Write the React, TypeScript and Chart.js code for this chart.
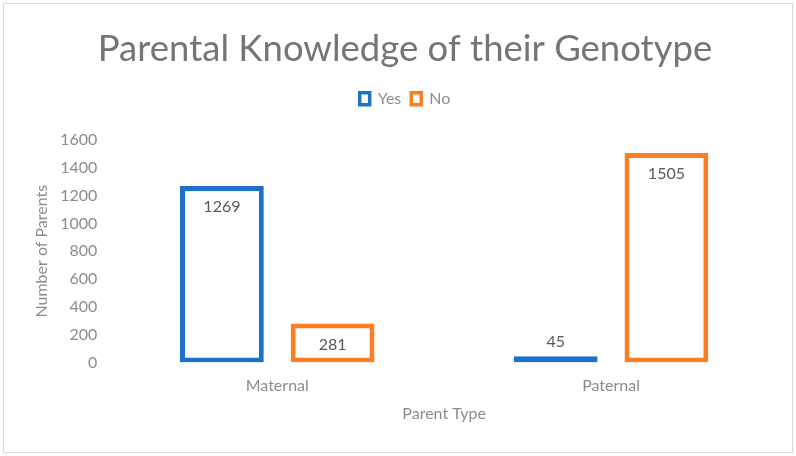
import React, { useEffect, useRef } from "react";
import { Chart, registerables } from "chart.js";

Chart.register(...registerables);

const categories = ["Maternal", "Paternal"];
const yesValues = [1269, 45];
const noValues = [281, 1505];
const yTicks = [0, 200, 400, 600, 800, 1000, 1200, 1400, 1600];

const FONT = "Lato, 'Open Sans', sans-serif";
const BLUE = "#1B72C8";
const ORANGE = "#FB7E24";

const frame = {
  id: "frame",
  beforeDraw(chart: any) {
    const ctx = chart.ctx;
    ctx.save();
    ctx.fillStyle = "#ffffff";
    ctx.fillRect(0, 0, chart.width, chart.height);
    ctx.strokeStyle = "#d9d9d9";
    ctx.lineWidth = 1;
    ctx.strokeRect(3.5, 3.5, chart.width - 7, chart.height - 7);
    ctx.restore();
  },
};

const legendGap = {
  id: "legendGap",
  beforeInit(chart: any) {
    const legend = chart.legend;
    if (!legend) return;
    const orig = legend.fit;
    legend.fit = function () {
      orig.call(this);
      this.height += 23;
    };
  },
};

const dataLabels = {
  id: "dataLabels",
  afterDatasetsDraw(chart: any) {
    const ctx = chart.ctx;
    ctx.save();
    ctx.font = `16px ${FONT}`;
    ctx.fillStyle = "#595959";
    ctx.textAlign = "center";
    ctx.textBaseline = "middle";
    chart.data.datasets.forEach((ds: any, di: number) => {
      const meta = chart.getDatasetMeta(di);
      meta.data.forEach((bar: any, i: number) => {
        const h = bar.base - bar.y;
        const y = h > 28 ? bar.y + 21 : bar.y - 14;
        ctx.fillText(String(ds.data[i]), bar.x, y);
      });
    });
    ctx.restore();
  },
};

export default function App() {
  const ref = useRef<HTMLCanvasElement>(null);
  useEffect(() => {
    if (!ref.current) return;
    const chart = new Chart(ref.current, {
      type: "bar",
      data: {
        labels: categories,
        datasets: [
          {
            label: "Yes",
            data: yesValues,
            backgroundColor: "#ffffff",
            borderColor: BLUE,
            borderWidth: 5,
            borderSkipped: false,
            categoryPercentage: 0.663,
            barPercentage: 0.757,
          },
          {
            label: "No",
            data: noValues,
            backgroundColor: "#ffffff",
            borderColor: ORANGE,
            borderWidth: 5,
            borderSkipped: false,
            categoryPercentage: 0.663,
            barPercentage: 0.757,
          },
        ],
      },
      options: {
        responsive: false,
        animation: false,
        layout: { padding: { left: 32, right: 18, top: 4, bottom: 33 } },
        plugins: {
          title: {
            display: true,
            text: "Parental Knowledge of their Genotype",
            color: "#757575",
            font: { family: FONT, size: 36.5, weight: "normal" },
            padding: { top: 23, bottom: 10 },
          },
          legend: {
            display: true,
            position: "top",
            labels: {
              color: "#8c8c8c",
              font: { family: FONT, size: 16 },
              boxWidth: 10,
              boxHeight: 12,
              padding: 10,
              generateLabels: (chart: any) =>
                chart.data.datasets.map((ds: any, i: number) => ({
                  text: ds.label,
                  fillStyle: "#ffffff",
                  strokeStyle: ds.borderColor,
                  lineWidth: 3.5,
                  fontColor: "#8c8c8c",
                  datasetIndex: i,
                  hidden: false,
                })),
            },
          },
          tooltip: { enabled: false },
        },
        scales: {
          x: {
            grid: { display: false, drawTicks: false },
            border: { display: false },
            ticks: { color: "#8c8c8c", font: { family: FONT, size: 16 }, padding: 14 },
            title: {
              display: true,
              text: "Parent Type",
              color: "#8c8c8c",
              font: { family: FONT, size: 16 },
              padding: { top: -6, bottom: 0 },
            },
          },
          y: {
            min: 0,
            max: 1600,
            afterBuildTicks: (axis: any) => {
              axis.ticks = yTicks.map((v) => ({ value: v }));
            },
            grid: { display: false, drawTicks: false },
            border: { display: false },
            ticks: {
              color: "#8c8c8c",
              font: { family: FONT, size: 16 },
              padding: 13,
              callback: (v: any) => String(v),
            },
            title: {
              display: true,
              text: "Number of Parents",
              color: "#8c8c8c",
              font: { family: FONT, size: 16 },
              padding: { top: 0, bottom: -4 },
            },
          },
        },
      },
      plugins: [frame, legendGap, dataLabels],
    });
    return () => chart.destroy();
  }, []);
  return (
    <div style={{ position: "fixed", left: 0, top: 0, width: 796, height: 456 }}>
      <canvas ref={ref} width={796} height={456} style={{ width: 796, height: 456 }} />
    </div>
  );
}
